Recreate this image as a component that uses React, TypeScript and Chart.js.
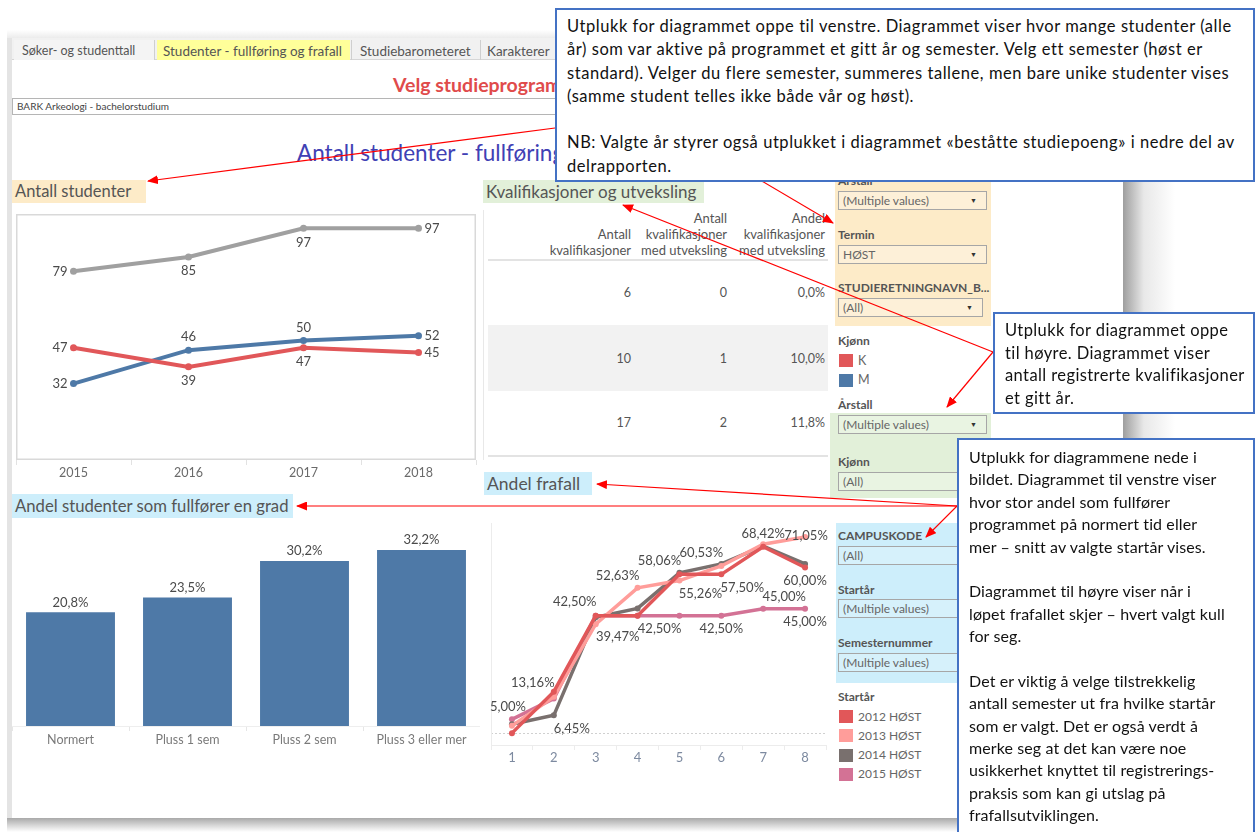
import React, { useEffect, useRef } from "react";
import { Chart, registerables } from "chart.js";

Chart.register(...registerables);

// ---------- DATA ----------
const YEARS = ["2015", "2016", "2017", "2018"];
const STUDENTER_TOTAL = [79, 85, 97, 97];
const STUDENTER_K = [47, 39, 47, 45];
const STUDENTER_M = [32, 46, 50, 52];

const KVAL_ANTALL = [6, 10, 17];
const KVAL_UTVEKSLING = [0, 1, 2];

const FULLFORING_CATEGORIES = ["Normert", "Pluss 1 sem", "Pluss 2 sem", "Pluss 3 eller mer"];
const FULLFORING_VALUES = [20.8, 23.5, 30.2, 32.2];

const SEMESTERNUMMER = ["1", "2", "3", "4", "5", "6", "7", "8"];
const FRAFALL_2012 = [0.0, 15.0, 42.5, 42.5, 57.5, 57.5, 67.5, 60.0];
const FRAFALL_2013 = [2.63, 13.16, 39.47, 52.63, 55.26, 60.53, 68.42, 71.05];
const FRAFALL_2014 = [3.23, 6.45, 41.94, 45.16, 58.06, 61.29, 67.74, 61.29];
const FRAFALL_2015 = [5.0, 12.5, 42.5, 42.5, 42.5, 42.5, 45.0, 45.0];
const STARTAR_LABELS = ["2012 HØST", "2013 HØST", "2014 HØST", "2015 HØST"];

// ---------- STYLE ----------
const C_RED = "#e15759";
const C_BLUE = "#4e79a7";
const C_GRAY = "#a0a0a0";
const STARTAR_COLORS = ["#e15759", "#ff9d9a", "#79706e", "#d37295"];
const FONT = "Lato, 'Open Sans', sans-serif";

// label placement for the student line chart (per dataset, per point)
const STUDENT_LABEL_POS = [
  ["left", "below", "below", "right"],
  ["left", "below", "below", "right"],
  ["left", "above", "above", "right"],
];

// label placement for frafall chart: dataset, point, offsets
const FRAFALL_LABELS = [
  { ds: 3, i: 0, dx: -4, dy: -13 },
  { ds: 1, i: 1, dx: -21, dy: -14 },
  { ds: 2, i: 1, dx: 18, dy: 13 },
  { ds: 0, i: 2, dx: -21, dy: -14 },
  { ds: 1, i: 2, dx: 22, dy: 13 },
  { ds: 1, i: 3, dx: -20, dy: -12 },
  { ds: 0, i: 3, dx: 22, dy: 13 },
  { ds: 2, i: 4, dx: -20, dy: -12 },
  { ds: 1, i: 5, dx: -20, dy: -13 },
  { ds: 1, i: 4, dx: 21, dy: 13 },
  { ds: 0, i: 5, dx: 21, dy: 13 },
  { ds: 3, i: 5, dx: 0, dy: 13 },
  { ds: 1, i: 6, dx: 0, dy: -10 },
  { ds: 1, i: 7, dx: 1, dy: -1 },
  { ds: 3, i: 6, dx: 21, dy: -12 },
  { ds: 0, i: 7, dx: 0, dy: 13 },
  { ds: 3, i: 7, dx: 0, dy: 13 },
];

const fmtPct = (d: number) => (v: number) => v.toFixed(d).replace(".", ",") + "%";

function makeLabelPlugin(id: string, items: { ds: number; i: number; dx: number; dy: number; align?: string }[], format: (v: number) => string, font: string, color: string) {
  return {
    id,
    afterDatasetsDraw(chart: any) {
      const ctx = chart.ctx;
      ctx.save();
      ctx.font = font;
      ctx.fillStyle = color;
      ctx.textBaseline = "middle";
      for (const l of items) {
        const el = chart.getDatasetMeta(l.ds).data[l.i];
        const v = chart.data.datasets[l.ds].data[l.i];
        ctx.textAlign = l.align || "center";
        ctx.fillText(format(v), el.x + l.dx, el.y + l.dy);
      }
      ctx.restore();
    },
  };
}

function placementItems(pos: string[][]) {
  const items: any[] = [];
  pos.forEach((row, ds) =>
    row.forEach((p, i) => {
      if (p === "left") items.push({ ds, i, dx: -6, dy: 0, align: "right" });
      else if (p === "right") items.push({ ds, i, dx: 6, dy: 0, align: "left" });
      else if (p === "above") items.push({ ds, i, dx: 0, dy: -13 });
      else items.push({ ds, i, dx: 0, dy: 14 });
    })
  );
  return items;
}

function makeDrawPlugin(id: string, fn: (chart: any) => void, before = false) {
  return before ? { id, beforeDatasetsDraw: fn } : { id, afterDraw: fn };
}

// ---------- CHARTS ----------
function StudentChart() {
  const ref = useRef<HTMLCanvasElement>(null);
  useEffect(() => {
    const ds = (data: number[], color: string) => ({
      data,
      borderColor: color,
      backgroundColor: color,
      borderWidth: 4,
      pointRadius: 3.5,
      pointBorderWidth: 0,
      tension: 0,
    });
    const chart = new Chart(ref.current!, {
      type: "line",
      data: {
        labels: YEARS,
        datasets: [ds(STUDENTER_TOTAL, C_GRAY), ds(STUDENTER_K, C_RED), ds(STUDENTER_M, C_BLUE)],
      },
      options: {
        responsive: false,
        animation: false,
        devicePixelRatio: 1,
        layout: { padding: 0 },
        plugins: { legend: { display: false }, tooltip: { enabled: false } },
        scales: {
          x: {
            offset: true,
            grid: { offset: true, drawOnChartArea: false, tickLength: 5, color: "#e2e2e2" },
            border: { display: false },
            ticks: { color: "#6a6a6a", font: { size: 12.5, family: FONT }, padding: 0 },
            afterFit: (s: any) => { s.height = 22; },
          },
          y: { display: false, min: 0, max: 103 },
        },
      } as any,
      plugins: [
        makeDrawPlugin("frame", (c) => {
          const a = c.chartArea;
          c.ctx.save();
          c.ctx.strokeStyle = "#d9d9d9";
          c.ctx.lineWidth = 1.5;
          c.ctx.strokeRect(a.left + 0.75, a.top + 0.75, a.right - a.left - 1.5, a.bottom - a.top - 1.5);
          c.ctx.restore();
        }, true),
        makeLabelPlugin("lbl", placementItems(STUDENT_LABEL_POS), (v) => String(v), `13px ${FONT}`, "#4a4a4a"),
      ] as any,
    });
    return () => chart.destroy();
  }, []);
  return <canvas ref={ref} width={468} height={272} style={{ position: "absolute", left: 12, top: 210 }} />;
}

function FullforingChart() {
  const ref = useRef<HTMLCanvasElement>(null);
  useEffect(() => {
    const chart = new Chart(ref.current!, {
      type: "bar",
      data: {
        labels: FULLFORING_CATEGORIES,
        datasets: [
          {
            data: FULLFORING_VALUES,
            backgroundColor: C_BLUE,
            borderWidth: 0,
            categoryPercentage: 1,
            barPercentage: 0.76,
          },
        ],
      },
      options: {
        responsive: false,
        animation: false,
        devicePixelRatio: 1,
        plugins: { legend: { display: false }, tooltip: { enabled: false } },
        scales: {
          x: {
            grid: { offset: true, drawOnChartArea: false, tickLength: 5, color: "#e6e6e6" },
            border: { display: true, color: "#eeeeee" },
            ticks: { color: "#7a7a7a", font: { size: 12.5, family: FONT }, padding: 1 },
            afterFit: (s: any) => { s.height = 26; },
          },
          y: { display: false, min: 0, max: 37.7 },
        },
      } as any,
      plugins: [
        makeLabelPlugin(
          "lbl",
          FULLFORING_VALUES.map((_, i) => ({ ds: 0, i, dx: 0, dy: -10 })),
          fmtPct(1),
          `13px ${FONT}`,
          "#4a4a4a"
        ),
      ] as any,
    });
    return () => chart.destroy();
  }, []);
  return <canvas ref={ref} width={468} height={232} style={{ position: "absolute", left: 12, top: 520 }} />;
}

function FrafallChart() {
  const ref = useRef<HTMLCanvasElement>(null);
  useEffect(() => {
    const series = [FRAFALL_2012, FRAFALL_2013, FRAFALL_2014, FRAFALL_2015];
    const chart = new Chart(ref.current!, {
      type: "line",
      data: {
        labels: SEMESTERNUMMER,
        datasets: series.map((d, k) => ({
          label: STARTAR_LABELS[k],
          data: d,
          borderColor: STARTAR_COLORS[k],
          backgroundColor: STARTAR_COLORS[k],
          borderWidth: 3.5,
          pointRadius: 3,
          pointBorderWidth: 0,
          tension: 0,
        })),
      },
      options: {
        responsive: false,
        animation: false,
        devicePixelRatio: 1,
        plugins: { legend: { display: false }, tooltip: { enabled: false } },
        scales: {
          x: {
            offset: true,
            grid: { offset: true, drawOnChartArea: false, tickLength: 5, color: "#ececec" },
            border: { display: true, color: "#ececec" },
            ticks: { color: "#7d8aa0", font: { size: 13, family: FONT }, padding: 0 },
            afterFit: (s: any) => { s.height = 26; },
          },
          y: { display: false, min: -4.3, max: 76.1 },
        },
      } as any,
      plugins: [
        makeDrawPlugin("zero", (c) => {
          const a = c.chartArea;
          const y0 = Math.round(c.scales.y.getPixelForValue(0)) + 0.5;
          const ctx = c.ctx;
          ctx.save();
          ctx.strokeStyle = "#d0d0d0";
          ctx.lineWidth = 1;
          ctx.setLineDash([2, 2]);
          ctx.beginPath();
          ctx.moveTo(a.left, y0);
          ctx.lineTo(a.right, y0);
          ctx.stroke();
          ctx.setLineDash([]);
          ctx.strokeStyle = "#ececec";
          ctx.beginPath();
          ctx.moveTo(a.left + 0.5, a.top);
          ctx.lineTo(a.left + 0.5, a.bottom);
          ctx.stroke();
          ctx.restore();
        }, true),
        makeLabelPlugin("lbl", FRAFALL_LABELS, fmtPct(2), `13px ${FONT}`, "#4a4a4a"),
      ] as any,
    });
    return () => chart.destroy();
  }, []);
  return <canvas ref={ref} width={343} height={252} style={{ position: "absolute", left: 487, top: 519 }} />;
}

// ---------- HTML PIECES ----------
const abs = (l: number, t: number, w?: number, h?: number, extra: React.CSSProperties = {}): React.CSSProperties => ({
  position: "absolute",
  left: l,
  top: t,
  width: w,
  height: h,
  ...extra,
});

function T(props: { x: number; y: number; size: number; color?: string; bold?: boolean; children: any; align?: "left" | "right"; ls?: number }) {
  const lh = Math.round(props.size * 1.3);
  const st: React.CSSProperties = {
    position: "absolute",
    top: props.y - lh / 2,
    lineHeight: lh + "px",
    fontSize: props.size,
    color: props.color || "#555",
    fontWeight: props.bold ? 700 : 400,
    whiteSpace: "nowrap",
    letterSpacing: props.ls ? props.ls + "px" : undefined,
  };
  if (props.align === "right") {
    st.right = 1257 - props.x;
    st.textAlign = "right";
  } else st.left = props.x;
  return <div style={st}>{props.children}</div>;
}

function Dropdown({ x, y, w, text, bg }: { x: number; y: number; w: number; text: string; bg: string }) {
  return (
    <div style={abs(x, y, w, 19, { border: "1px solid #a6a6a6", boxSizing: "border-box", background: bg, fontSize: 12, color: "#666", lineHeight: "17px", paddingLeft: 4, whiteSpace: "nowrap", overflow: "hidden" })}>
      {text}
      <span style={{ position: "absolute", right: 9, top: 0, fontSize: 7, color: "#333" }}>▼</span>
    </div>
  );
}

function Heading({ x, y, w, h, bg, text, size }: { x: number; y: number; w: number; h: number; bg: string; text: string; size: number }) {
  return (
    <div style={abs(x, y, w, h, { background: bg, fontSize: size, color: "#555", lineHeight: h + "px", paddingLeft: 3, boxSizing: "border-box", whiteSpace: "nowrap" })}>
      {text}
    </div>
  );
}

function Callout({ x, y, w, h, lines, lh, pad, size, ls }: { x: number; y: number; w: number; h: number; lines: string[]; lh: number; pad: number; size: number; ls: number }) {
  return (
    <div style={abs(x, y, w, h, { background: "#fff", border: "2px solid #4472c4", boxSizing: "border-box", padding: `${pad}px 0 0 10px`, overflow: "hidden" })}>
      {lines.map((l, i) => (
        <div key={i} style={{ fontSize: size, letterSpacing: ls + "px", lineHeight: lh + "px", height: lh, color: "#111", whiteSpace: "nowrap" }}>
          {l || "\u00a0"}
        </div>
      ))}
    </div>
  );
}

const CALLOUT1 = [
  "Utplukk for diagrammet oppe til venstre. Diagrammet viser hvor mange studenter (alle",
  "år) som var aktive på programmet et gitt år og semester. Velg ett semester (høst er",
  "standard). Velger du flere semester, summeres tallene, men bare unike studenter vises",
  "(samme student telles ikke både vår og høst).",
  "",
  "NB: Valgte år styrer også utplukket i diagrammet «beståtte studiepoeng» i nedre del av",
  "delrapporten.",
];
const CALLOUT2 = [
  "Utplukk for diagrammet oppe",
  "til høyre. Diagrammet viser",
  "antall registrerte kvalifikasjoner",
  "et gitt år.",
];
const CALLOUT3 = [
  "Utplukk for diagrammene nede i",
  "bildet. Diagrammet til venstre viser",
  "hvor stor andel som fullfører",
  "programmet på normert tid eller",
  "mer – snitt av valgte startår vises.",
  "",
  "Diagrammet til høyre viser når i",
  "løpet frafallet skjer – hvert valgt kull",
  "for seg.",
  "",
  "Det er viktig å velge tilstrekkelig",
  "antall semester ut fra hvilke startår",
  "som er valgt. Det er også verdt å",
  "merke seg at det kan være noe",
  "usikkerhet knyttet til registrerings-",
  "praksis som kan gi utslag på",
  "frafallsutviklingen.",
];

const ARROWS = [
  [555, 128, 148, 181],
  [760, 180, 833, 223],
  [993, 352, 623, 205],
  [993, 352, 947, 407],
  [957, 506, 597, 484],
  [957, 506, 297, 506],
  [957, 506, 926, 537],
];

function Table() {
  const rightEdges = [631, 727, 825];
  const headers = [
    ["Antall", "kvalifikasjoner"],
    ["Antall", "kvalifikasjoner", "med utveksling"],
    ["Andel", "kvalifikasjoner", "med utveksling"],
  ];
  const rowY = [293, 359, 423];
  const cells = KVAL_ANTALL.map((a, r) => [String(a), String(KVAL_UTVEKSLING[r]), ((KVAL_UTVEKSLING[r] / a) * 100).toFixed(1).replace(".", ",") + "%"]);
  return (
    <>
      <div style={abs(488, 325, 340, 66, { background: "#f2f2f2" })} />
      <div style={abs(488, 259, 340, 2, { background: "#e3e3e3" })} />
      <div style={abs(488, 455, 340, 2, { background: "#e3e3e3" })} />
      {headers.map((h, c) =>
        h.map((line, k) => (
          <T key={c + "-" + k} x={rightEdges[c]} y={250 - (h.length - 1 - k) * 16} size={13} align="right" color="#555">
            {line}
          </T>
        ))
      )}
      {cells.map((row, r) =>
        row.map((v, c) => (
          <T key={r + "_" + c} x={rightEdges[c]} y={rowY[r]} size={12.5} align="right" color="#555">
            {v}
          </T>
        ))
      )}
    </>
  );
}

export default function App() {
  useEffect(() => {
    Chart.defaults.font.family = FONT;
    document.body.style.margin = "0";
  }, []);
  return (
    <div style={abs(0, 0, 1257, 832, { background: "#fff", overflow: "hidden", fontFamily: FONT })}>
      {/* frame & shadows */}
      <div style={abs(7, 30, 1117, 9, { background: "linear-gradient(to bottom, #ffffff, #e9e9e9)" })} />
      <div style={abs(7, 38, 5, 790, { background: "#e4e4e4" })} />
      <div style={abs(1123, 40, 52, 780, { background: "linear-gradient(to right, #9e9e9e, #e8e8e8 40%, #ffffff)" })} />
      <div style={abs(7, 818, 1120, 14, { background: "linear-gradient(to bottom, #a9a9a9, #e6e6e6 70%, #ffffff)" })} />

      {/* tab bar */}
      <div style={abs(12, 38, 1111, 22, { background: "#f1f1f1", borderBottom: "1px solid #d6d6d6", boxSizing: "border-box" })} />
      <div style={abs(14, 40, 141, 20, { background: "#f4f4f4", borderRight: "1px solid #cfcfcf", boxSizing: "border-box" })} />
      <div style={abs(157, 40, 193, 20, { background: "#ffff9a" })} />
      <div style={abs(350, 40, 2, 20, { borderRight: "1px solid #cfcfcf", boxSizing: "border-box" })} />
      <div style={abs(479, 40, 2, 20, { borderRight: "1px solid #cfcfcf", boxSizing: "border-box" })} />
      <T x={22} y={51} size={12.5} color="#555">Søker- og studenttall</T>
      <T x={163} y={51} size={13.5} color="#555">Studenter - fullføring og frafall</T>
      <T x={360} y={51} size={13.5} color="#555">Studiebarometeret</T>
      <T x={487} y={51} size={13.5} color="#555">Karakterer</T>

      <T x={393} y={84} size={19.5} bold color="#e04b4b">Velg studieprogram</T>
      <div style={abs(12, 98, 600, 17, { border: "1px solid #b5b5b5", boxSizing: "border-box", fontSize: 10, lineHeight: "15px", color: "#444", paddingLeft: 4 })}>
        BARK Arkeologi - bachelorstudium
      </div>
      <T x={297} y={152} size={22.5} color="#4040b4">Antall studenter - fullføring og frafall</T>

      {/* headings */}
      <Heading x={12} y={180} w={134} h={23} bg="#fdebc8" text="Antall studenter" size={16.5} />
      <Heading x={483} y={180} w={221} h={23} bg="#e2f0d9" text="Kvalifikasjoner og utveksling" size={17} />
      <Heading x={484} y={472} w={108} h={23} bg="#cdeefb" text="Andel frafall" size={17.5} />
      <Heading x={12} y={494} w={281} h={24} bg="#cdeefb" text="Andel studenter som fullfører en grad" size={16.7} />

      {/* vertical separator near table */}
      <div style={abs(483, 210, 1, 250, { background: "#e8e8e8" })} />

      <Table />

      {/* right filter panel */}
      <div style={abs(835, 176, 156, 150, { background: "#fdebc8" })} />
      <T x={838} y={181} size={12} bold color="#555">Årstall</T>
      <Dropdown x={838} y={191} w={149} text="(Multiple values)" bg="#fdf0d8" />
      <T x={838} y={235} size={12} bold color="#555">Termin</T>
      <Dropdown x={838} y={245} w={149} text="HØST" bg="#fdf0d8" />
      <T x={838} y={288} size={12} bold color="#555">STUDIERETNINGNAVN_B...</T>
      <Dropdown x={838} y={298} w={145} text="(All)" bg="#fdf0d8" />

      <T x={838} y={341} size={12} bold color="#555">Kjønn</T>
      <div style={abs(839, 354, 14, 13, { background: C_RED })} />
      <T x={858} y={361} size={12.5} color="#666">K</T>
      <div style={abs(839, 374, 14, 13, { background: C_BLUE })} />
      <T x={858} y={380} size={12.5} color="#666">M</T>
      <T x={838} y={405} size={12} bold color="#555">Årstall</T>

      <div style={abs(830, 413, 161, 85, { background: "#e2f0d9" })} />
      <Dropdown x={838} y={415} w={149} text="(Multiple values)" bg="#e9f4e2" />
      <T x={838} y={462} size={12} bold color="#555">Kjønn</T>
      <Dropdown x={838} y={472} w={149} text="(All)" bg="#e9f4e2" />

      <div style={abs(836, 523, 130, 160, { background: "#cdeefb" })} />
      <T x={838} y={536} size={12} bold color="#555">CAMPUSKODE</T>
      <Dropdown x={838} y={546} w={149} text="(All)" bg="#d6f1fb" />
      <T x={838} y={590} size={12} bold color="#555">Startår</T>
      <Dropdown x={838} y={599} w={149} text="(Multiple values)" bg="#d6f1fb" />
      <T x={838} y={643} size={12} bold color="#555">Semesternummer</T>
      <Dropdown x={838} y={653} w={149} text="(Multiple values)" bg="#d6f1fb" />

      <T x={838} y={697} size={12} bold color="#555">Startår</T>
      {STARTAR_LABELS.map((l, k) => (
        <React.Fragment key={l}>
          <div style={abs(839, 710 + k * 19.3, 14, 13, { background: STARTAR_COLORS[k] })} />
          <T x={858} y={716.5 + k * 19.3} size={12} color="#666">{l}</T>
        </React.Fragment>
      ))}

      {/* charts */}
      <StudentChart />
      <FullforingChart />
      <FrafallChart />

      {/* annotation arrows */}
      <svg width={1257} height={832} style={abs(0, 0, 1257, 832, { pointerEvents: "none" })}>
        <defs>
          <marker id="ah" markerUnits="userSpaceOnUse" markerWidth={11} markerHeight={9} refX={10} refY={4.5} orient="auto">
            <path d="M0,0 L11,4.5 L0,9 z" fill="#ff0000" />
          </marker>
        </defs>
        {ARROWS.map((a, i) => (
          <line key={i} x1={a[0]} y1={a[1]} x2={a[2]} y2={a[3]} stroke="#ff0000" strokeWidth={1.2} markerEnd="url(#ah)" />
        ))}
      </svg>

      {/* callouts */}
      <Callout x={555} y={8} w={700} h={174} lines={CALLOUT1} lh={23.3} pad={5} size={16.5} ls={0.55} />
      <Callout x={993} y={312} w={262} h={102} lines={CALLOUT2} lh={22.6} pad={5} size={16.5} ls={0.4} />
      <Callout x={957} y={438} w={298} h={400} lines={CALLOUT3} lh={22.4} pad={6} size={16} ls={0.1} />
    </div>
  );
}
